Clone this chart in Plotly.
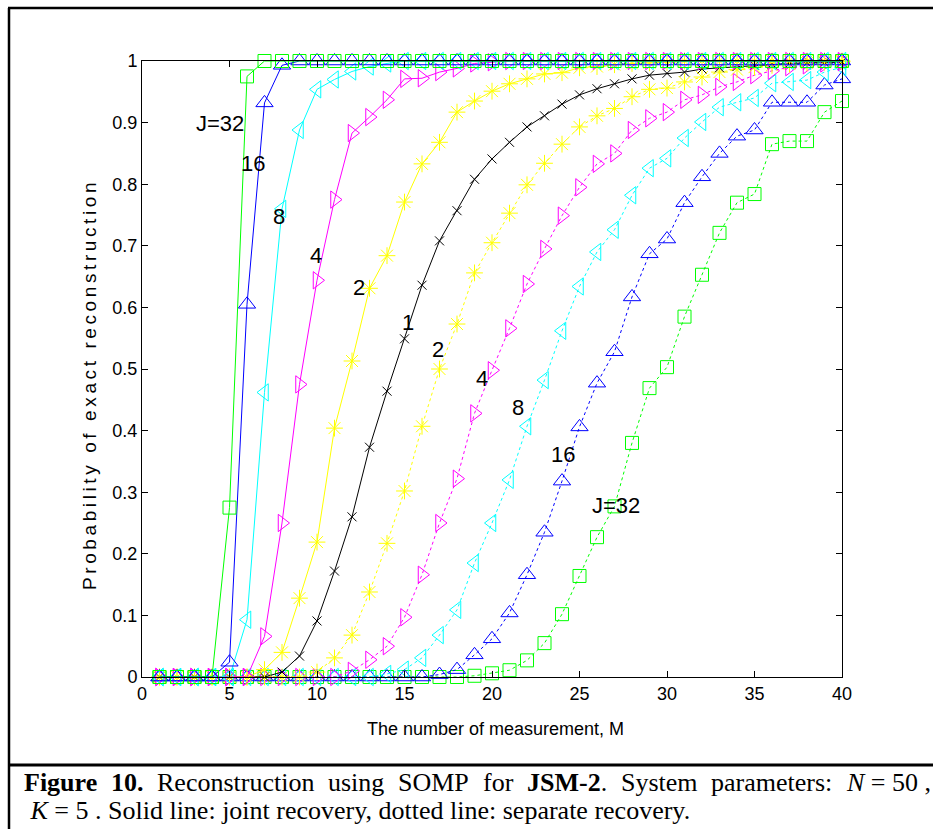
import plotly.graph_objects as go

M = list(range(1, 41))

# Joint recovery (solid lines)
joint_J32 = [0, 0, 0, 0, 0.275, 0.975] + [1.0] * 34
joint_J16 = [0, 0, 0, 0, 0.024, 0.605, 0.932, 0.993] + [1.0] * 32
joint_J8 = [0, 0, 0, 0, 0, 0.093, 0.462, 0.76, 0.888, 0.954, 0.97, 0.983, 0.991, 0.996] + [1.0] * 26
joint_J4 = [0, 0, 0, 0, 0, 0, 0.066, 0.25, 0.475, 0.644, 0.775, 0.883, 0.909, 0.937,
            0.971, 0.972, 0.982, 0.988, 0.996, 0.998] + [1.0] * 20
joint_J2 = [0, 0, 0, 0, 0, 0, 0.012, 0.04, 0.128, 0.219, 0.404, 0.513, 0.631, 0.684,
            0.771, 0.833, 0.868, 0.917, 0.935, 0.951, 0.963, 0.971, 0.979, 0.981,
            0.989, 0.991, 0.994, 0.996, 0.997, 0.998] + [1.0] * 10
joint_J1 = [0, 0, 0, 0, 0, 0, 0, 0.008, 0.034, 0.091, 0.172, 0.26, 0.373, 0.464,
            0.549, 0.636, 0.708, 0.757, 0.808, 0.841, 0.868, 0.893, 0.911, 0.93,
            0.945, 0.955, 0.963, 0.971, 0.977, 0.98, 0.982, 0.987, 0.989, 0.991,
            0.993, 0.995, 0.996, 0.997, 0.998, 0.998]

# Separate recovery (dotted lines)
sep_J2 = [0] * 9 + [0.008, 0.031, 0.068, 0.138, 0.217, 0.302, 0.407, 0.5, 0.573,
                    0.656, 0.705, 0.753, 0.799, 0.834, 0.865, 0.893, 0.911, 0.923,
                    0.942, 0.954, 0.956, 0.966, 0.974, 0.982, 0.986, 0.99, 0.993,
                    0.995, 0.997, 0.998, 0.999]
sep_J4 = [0] * 11 + [0.01, 0.028, 0.05, 0.097, 0.166, 0.25, 0.322, 0.428, 0.498,
                     0.566, 0.638, 0.695, 0.749, 0.795, 0.833, 0.85, 0.888, 0.907,
                     0.917, 0.937, 0.945, 0.958, 0.966, 0.977, 0.984, 0.99, 0.993,
                     0.996, 0.998]
sep_J8 = [0] * 13 + [0.005, 0.012, 0.031, 0.068, 0.109, 0.185, 0.25, 0.32, 0.407,
                     0.482, 0.562, 0.634, 0.69, 0.726, 0.782, 0.826, 0.842, 0.875,
                     0.901, 0.925, 0.933, 0.94, 0.964, 0.966, 0.969, 0.982, 0.99]
sep_J16 = [0] * 16 + [0.004, 0.012, 0.036, 0.062, 0.104, 0.166, 0.235, 0.318, 0.406,
                      0.477, 0.528, 0.617, 0.687, 0.711, 0.77, 0.812, 0.85, 0.878,
                      0.888, 0.933, 0.933, 0.933, 0.961, 0.971]
sep_J32 = [0] * 18 + [0.002, 0.006, 0.011, 0.027, 0.055, 0.102, 0.164, 0.227, 0.277,
                      0.38, 0.469, 0.503, 0.585, 0.653, 0.721, 0.77, 0.784, 0.865,
                      0.87, 0.87, 0.917, 0.935]

x_ticks = list(range(0, 41, 5))
y_ticks = [round(0.1 * i, 1) for i in range(11)]
y_ticklabels = ["0", "0.1", "0.2", "0.3", "0.4", "0.5", "0.6", "0.7", "0.8", "0.9", "1"]

curve_labels = ["J=32", "16", "8", "4", "2", "1", "2", "4", "8", "16", "J=32"]
x_title = "The number of measurement, M"
y_title = "Probability of exact reconstruction"

SANS = "Liberation Sans, Arial, sans-serif"
SERIF = "Liberation Serif, Times New Roman, serif"

fig = go.Figure()

def add(y, color, symbol, size, dash):
    fig.add_trace(go.Scatter(
        x=M, y=y, mode="lines+markers", cliponaxis=False,
        line=dict(color=color, width=1, dash=dash),
        marker=dict(symbol=symbol, size=size, color=color, line=dict(color=color, width=1)),
        showlegend=False,
    ))

add(sep_J32, "#00FF00", "square-open", 13, "dot")
add(sep_J16, "#0000FF", "triangle-up-open", 15, "dot")
add(sep_J8, "#00FFFF", "triangle-left-open", 15, "dot")
add(sep_J4, "#FF00FF", "triangle-right-open", 15, "dot")
add(sep_J2, "#FFFF00", "asterisk-open", 14, "dot")
add(joint_J1, "#000000", "x-thin-open", 9, "solid")
add(joint_J2, "#FFFF00", "asterisk-open", 14, "solid")
add(joint_J4, "#FF00FF", "triangle-right-open", 15, "solid")
add(joint_J8, "#00FFFF", "triangle-left-open", 15, "solid")
add(joint_J16, "#0000FF", "triangle-up-open", 15, "solid")
add(joint_J32, "#00FF00", "square-open", 13, "solid")

# plot area in pixels
L, R, T, B = 142, 842, 61, 677
def px(xpix):
    return (xpix - L) / (R - L)
def py(ypix):
    return (B - ypix) / (B - T)

annotations = []
label_pos = [(4.46, 0.899), (6.34, 0.833), (7.83, 0.747), (9.94, 0.685), (12.4, 0.632),
             (15.2, 0.575), (16.9, 0.531), (19.4, 0.485), (21.5, 0.438), (24.06, 0.362),
             (27.1, 0.278)]
for txt, (xx, yy) in zip(curve_labels, label_pos):
    annotations.append(dict(x=xx, y=yy, xref="x", yref="y", text=txt, showarrow=False,
                            xanchor="center", yanchor="middle",
                            font=dict(family=SANS, size=22, color="black")))

annotations.append(dict(x=px(496), y=py(729), xref="paper", yref="paper", text=x_title,
                        xanchor="center", yanchor="middle", showarrow=False,
                        font=dict(family=SANS, size=18, color="black")))
annotations.append(dict(x=px(89), y=py(385), xref="paper", yref="paper", text=y_title,
                        xanchor="center", yanchor="middle", textangle=-90, showarrow=False,
                        font=dict(family=SANS, size=19, color="black")))

# caption (justified first line emulated by word placement)
line1 = [("<b>Figure</b>", 22), ("<b>10.</b>", 109), ("Reconstruction", 155), ("using", 326),
         ("SOMP", 396), ("for", 481), ("<b>JSM-2</b>.", 525), ("System", 619),
         ("parameters:", 709), ("<i>N</i> = 50 ,", 844)]
for txt, xl in line1:
    annotations.append(dict(x=px(xl), y=py(782), xref="paper", yref="paper", text=txt,
                            xanchor="left", yanchor="middle", showarrow=False,
                            font=dict(family=SERIF, size=26, color="black")))
annotations.append(dict(x=px(22), y=py(810), xref="paper", yref="paper",
                        text=" <i>K</i> = 5 . Solid line: joint recovery, dotted line: separate recovery.",
                        xanchor="left", yanchor="middle", showarrow=False,
                        font=dict(family=SERIF, size=26, color="black")))

shapes = [
    dict(type="line", xref="paper", yref="paper", x0=px(9), x1=px(9), y0=py(8), y1=py(840),
         line=dict(color="black", width=2.5)),
    dict(type="line", xref="paper", yref="paper", x0=px(8), x1=px(940), y0=py(8), y1=py(8),
         line=dict(color="black", width=2.5)),
    dict(type="line", xref="paper", yref="paper", x0=px(8), x1=px(940), y0=py(765), y1=py(765),
         line=dict(color="black", width=3)),
]

axis_common = dict(showline=True, linecolor="black", linewidth=1, mirror="ticks",
                   ticks="inside", ticklen=6, tickcolor="black", showgrid=False,
                   zeroline=False, tickfont=dict(family=SANS, size=18, color="black"))

fig.update_xaxes(range=[0, 40], tickvals=x_ticks, **axis_common)
fig.update_yaxes(range=[0, 1], tickvals=y_ticks, ticktext=y_ticklabels, **axis_common)

fig.update_layout(
    width=933, height=829,
    margin=dict(l=L, r=933 - R, t=T, b=829 - B),
    paper_bgcolor="white", plot_bgcolor="white",
    annotations=annotations, shapes=shapes,
)

post = """
document.querySelectorAll('text.annotation-text').forEach(function(e){
  if (e.textContent.indexOf('Probability') === 0) { e.style.letterSpacing = '3.6px'; }
});
"""
fig.write_html("out.html", post_script=post)
